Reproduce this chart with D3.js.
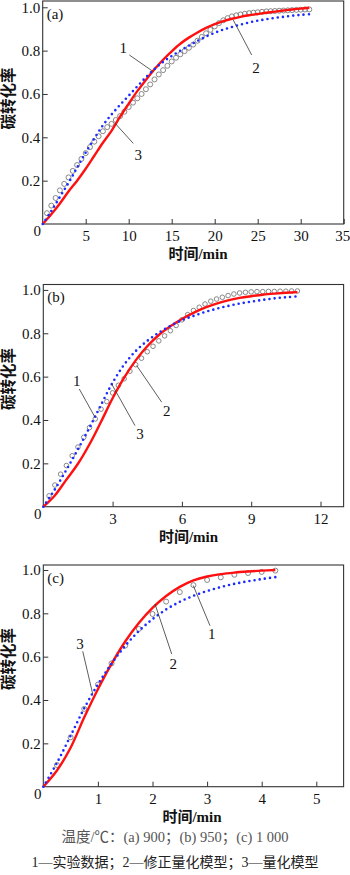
<!DOCTYPE html>
<html>
<head>
<meta charset="utf-8">
<script src="https://cdn.jsdelivr.net/npm/d3@7"></script>
<style>
  body { margin: 0; background: #fff; }
  svg { display: block; }
  text { font-family: "Liberation Serif", "Times New Roman", "Noto Sans CJK SC", serif; }
</style>
</head>
<body>
<svg id="chart" width="350" height="875"></svg>
<script>
// (a) 900 ℃ -- curve 2 (red, 修正量化模型) and curve 3 (blue dots, 量化模型)
const timeA = [0,1,2,3,4,5,6,7,8,9,10,11,12,13,14,15,16,17,18,19,20,21,22,23,24,25,26,27,28,29,30,31];
const modA = [0,0.045,0.095,0.15,0.2,0.255,0.315,0.375,0.43,0.495,0.555,0.613,0.665,0.714,0.758,0.797,
  0.832,0.86,0.884,0.905,0.922,0.936,0.947,0.956,0.963,0.969,0.975,0.98,0.985,0.99,0.994,0.998];
const quantA = [0,0.06,0.125,0.19,0.26,0.33,0.395,0.455,0.505,0.55,0.592,0.635,0.677,0.715,0.748,0.775,
  0.8,0.823,0.845,0.865,0.882,0.897,0.909,0.92,0.93,0.938,0.945,0.951,0.956,0.961,0.965,0.968];
// (a) curve 1, experimental data (grey circles)
const expTimeA = [0.5,1,1.5,2,2.5,3,3.5,4,4.5,5,5.5,6,6.5,7,7.5,8,8.5,9,9.5,10,10.5,11,11.5,12,12.5,13,
  13.5,14,14.5,15,15.5,16,16.5,17,17.5,18,18.5,19,19.5,20,20.5,21,21.5,22,22.5,23,23.5,24,24.5,25,
  25.5,26,26.5,27,27.5,28,28.5,29,29.5,30,30.5,31];
const expA = [0.05,0.085,0.12,0.155,0.185,0.215,0.245,0.272,0.3,0.327,0.355,0.38,0.405,0.428,0.447,0.462,
  0.48,0.498,0.518,0.54,0.56,0.58,0.6,0.622,0.644,0.667,0.69,0.71,0.73,0.75,0.767,0.783,0.798,0.813,
  0.828,0.846,0.863,0.88,0.896,0.912,0.927,0.94,0.95,0.958,0.963,0.967,0.97,0.973,0.975,0.977,0.979,
  0.981,0.982,0.983,0.984,0.985,0.986,0.987,0.988,0.989,0.99,0.99];

// (b) 950 ℃
const timeB = [0,0.5,1,1.5,2,2.5,3,3.5,4,4.5,5,5.5,6,6.5,7,7.5,8,8.5,9,9.5,10,10.5,11];
const modB = [0,0.052,0.125,0.198,0.288,0.392,0.5,0.595,0.675,0.74,0.792,0.832,0.866,0.894,0.918,0.937,0.952,
  0.963,0.971,0.978,0.983,0.987,0.99];
const quantB = [0,0.08,0.17,0.265,0.365,0.47,0.572,0.655,0.718,0.765,0.803,0.834,0.86,0.88,0.898,0.913,0.926,
  0.937,0.946,0.954,0.961,0.966,0.97];
const expTimeB = [0.25,0.5,0.75,1,1.25,1.5,1.75,2,2.25,2.5,2.75,3,3.25,3.5,3.75,4,4.25,4.5,4.75,5,5.25,
  5.5,5.75,6,6.25,6.5,6.75,7,7.25,7.5,7.75,8,8.25,8.5,8.75,9,9.25,9.5,9.75,10,10.25,10.5,10.75,11];
const expB = [0.05,0.1,0.15,0.19,0.235,0.275,0.32,0.365,0.405,0.45,0.485,0.525,0.56,0.59,0.625,0.655,
  0.685,0.715,0.74,0.765,0.788,0.812,0.836,0.862,0.886,0.905,0.92,0.935,0.948,0.958,0.966,0.974,0.981,
  0.986,0.989,0.991,0.992,0.992,0.993,0.993,0.994,0.994,0.995,0.995];

// (c) 1 000 ℃
const timeC = [0,0.25,0.5,0.75,1,1.25,1.5,1.75,2,2.25,2.5,2.75,3,3.25,3.5,3.75,4,4.25];
const modC = [0,0.075,0.18,0.32,0.45,0.567,0.67,0.755,0.825,0.88,0.922,0.952,0.97,0.981,0.988,0.993,0.997,1.0];
const quantC = [0,0.11,0.235,0.362,0.472,0.568,0.65,0.718,0.773,0.818,0.853,0.881,0.903,0.921,0.936,0.948,0.958,0.967];
const expTimeC = [0.25,0.5,0.75,1,1.25,1.5,1.75,2,2.25,2.5,2.75,3,3.25,3.5,3.75,4,4.25];
const expC = [0.1,0.228,0.359,0.471,0.569,0.651,0.728,0.797,0.854,0.898,0.93,0.954,0.966,0.978,0.986,0.991,0.997];

const yTicks = [0.2,0.4,0.6,0.8,1.0];
const xTicksA = [5,10,15,20,25,30,35];
const xTicksB = [3,6,9,12];
const xTicksC = [1,2,3,4,5];

const yTitle = "碳转化率";
const xTitle = "时间/min";
const caption1 = "温度/℃：(a) 900；(b) 950；(c) 1 000";
const caption2 = "1—实验数据；2—修正量化模型；3—量化模型";

// callouts: [text, label position, leader start, leader end] in data units
const panels = [
  { tag: "(a)", box: {l: 42.7, r: 343.7, t: 1, b: 224}, xMax: 35, yMax: 1.029, xTicks: xTicksA,
    time: timeA, mod: modA, quant: quantA, expTime: expTimeA, exp: expA, r: 2.5,
    titleX: 198, titleY: 254, yTitleY: 98.5,
    notes: [["1", [9.37, 0.812], [10.07, 0.78], [12.86, 0.703]],
            ["3", [11.12, 0.318], [10.53, 0.372], [8.41, 0.465]],
            ["2", [24.8, 0.72], [24.3, 0.78], [22.16, 0.941]]] },
  { tag: "(b)", box: {l: 43.3, r: 343.6, t: 284.5, b: 506.7}, xMax: 13, yMax: 1.025, xTicks: xTicksB,
    time: timeB, mod: modB, quant: quantB, expTime: expTimeB, exp: expB, r: 2.3,
    titleX: 188.5, titleY: 537, yTitleY: 379,
    notes: [["1", [1.446, 0.581], [1.558, 0.543], [2.238, 0.413]],
            ["3", [4.186, 0.335], [3.97, 0.374], [2.96, 0.566]],
            ["2", [5.342, 0.443], [5.126, 0.482], [4.043, 0.651]]] },
  { tag: "(c)", box: {l: 43.3, r: 343.6, t: 565, b: 786.7}, xMax: 5.5, yMax: 1.023, xTicks: xTicksC,
    time: timeC, mod: modC, quant: quantC, expTime: expTimeC, exp: expC, r: 2.5,
    titleX: 192, titleY: 817, yTitleY: 659,
    notes: [["3", [0.672, 0.659], [0.722, 0.625], [0.905, 0.428]],
            ["2", [2.381, 0.566], [2.352, 0.612], [2.046, 0.843]],
            ["1", [3.084, 0.705], [3.053, 0.743], [2.747, 0.928]]] }
];

const svg = d3.select("#chart");

panels.forEach(p => {
  const x = d3.scaleLinear().domain([0, p.xMax]).range([p.box.l, p.box.r]);
  const y = d3.scaleLinear().domain([0, p.yMax]).range([p.box.b, p.box.t]);
  const g = svg.append("g");

  // axes with inward ticks
  const xa = g.append("g").attr("transform", `translate(0,${p.box.b})`)
    .call(d3.axisBottom(x).tickValues(p.xTicks).tickFormat(d3.format("d"))
      .tickSize(-5).tickPadding(6.5));
  const ya = g.append("g").attr("transform", `translate(${p.box.l},0)`)
    .call(d3.axisLeft(y).tickValues(yTicks).tickFormat(d3.format(".1f")).tickSize(-5).tickPadding(2.5));
  [xa, ya].forEach(a => {
    a.select(".domain").remove();
    a.selectAll(".tick line").attr("stroke", "#333");
    a.selectAll("text").attr("font-size", 15).attr("fill", "#111");
  });
  // last label sits at the right edge of the page
  xa.selectAll(".tick text").filter(d => x(d) > 340).attr("dx", -1.5);

  g.append("text").attr("x", p.box.l - 5.5).attr("y", p.box.b + 7)
    .attr("dy", "0.35em").attr("text-anchor", "middle")
    .attr("font-size", 15).attr("fill", "#111").text("0");

  // frame
  g.append("rect").attr("x", p.box.l).attr("y", p.box.t)
    .attr("width", p.box.r - p.box.l).attr("height", p.box.b - p.box.t)
    .attr("fill", "none").attr("stroke", "#333").attr("stroke-width", 1.1);

  const line = d3.line().curve(d3.curveCatmullRom.alpha(0.5))
    .x(d => x(d[0])).y(d => y(d[1]));

  // experimental circles
  g.append("g").selectAll("circle")
    .data(d3.zip(p.expTime, p.exp))
    .join("circle")
    .attr("cx", d => x(d[0])).attr("cy", d => y(d[1])).attr("r", p.r)
    .attr("fill", "none").attr("stroke", "#7a7a7a").attr("stroke-width", 0.9);

  // modified model (red)
  g.append("path").datum(d3.zip(p.time, p.mod))
    .attr("d", line).attr("fill", "none")
    .attr("stroke", "#ff1010").attr("stroke-width", 2.4);

  // quantitative model (blue dots)
  g.append("path").datum(d3.zip(p.time, p.quant))
    .attr("d", line).attr("fill", "none")
    .attr("stroke", "#1a2cff").attr("stroke-width", 2.6)
    .attr("stroke-linecap", "round").attr("stroke-dasharray", "0 5.2");

  // callouts
  p.notes.forEach(([t, lab, s, e]) => {
    g.append("line")
      .attr("x1", x(s[0])).attr("y1", y(s[1]))
      .attr("x2", x(e[0])).attr("y2", y(e[1]))
      .attr("stroke", "#333").attr("stroke-width", 0.8);
    g.append("text").attr("x", x(lab[0])).attr("y", y(lab[1]))
      .attr("dy", "0.35em").attr("text-anchor", "middle")
      .attr("font-size", 15).attr("fill", "#111").text(t);
  });

  g.append("text").attr("x", p.box.l + 4).attr("y", p.box.t + 12.5)
    .attr("dy", "0.35em").attr("font-size", 15).attr("fill", "#111").text(p.tag);

  // titles
  g.append("text").attr("x", p.titleX).attr("y", p.titleY).attr("dy", "0.35em")
    .attr("text-anchor", "middle").attr("font-size", 15).attr("font-weight", "bold")
    .attr("fill", "#111").text(xTitle);
  g.append("text")
    .attr("transform", `translate(9,${p.yTitleY}) rotate(-90)`)
    .attr("dy", "0.35em").attr("text-anchor", "middle")
    .attr("font-size", 15.5).attr("font-weight", "bold")
    .attr("fill", "#111").text(yTitle);
});

svg.append("text").attr("x", 175).attr("y", 837).attr("dy", "0.35em")
  .attr("text-anchor", "middle").attr("font-size", 14.5).attr("fill", "#555").text(caption1);
svg.append("text").attr("x", 175).attr("y", 862).attr("dy", "0.35em")
  .attr("text-anchor", "middle").attr("font-size", 14).attr("fill", "#222").text(caption2);
</script>
</body>
</html>
